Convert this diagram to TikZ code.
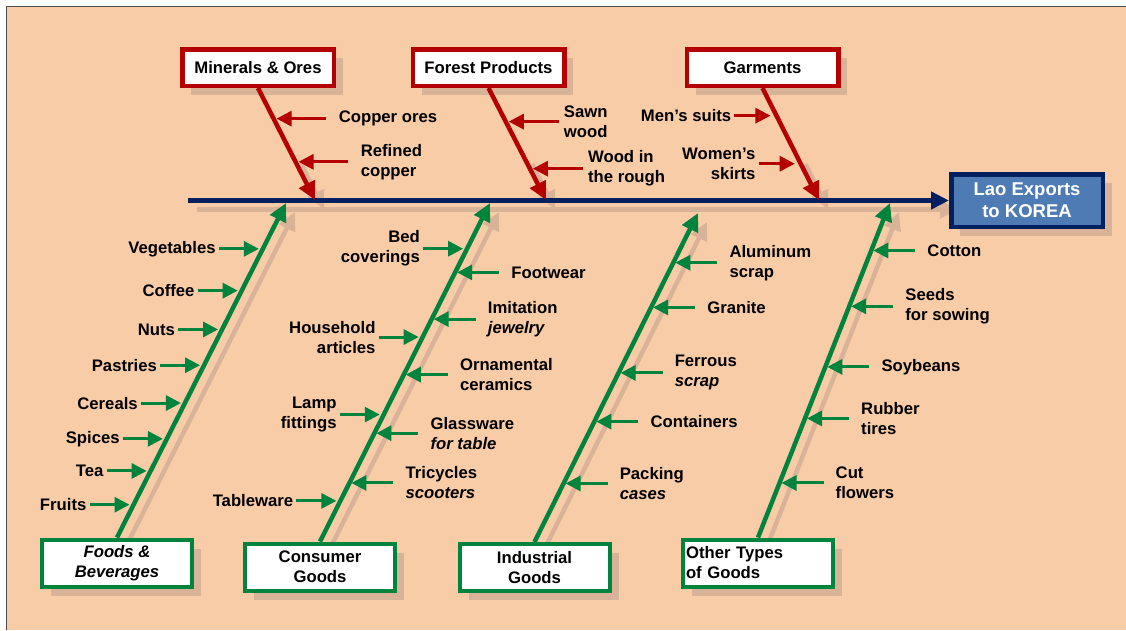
\documentclass[tikz,border=0pt]{standalone}
\usepackage{fontspec}
\setmainfont{Liberation Sans}
\usetikzlibrary{arrows.meta,positioning,shadows,backgrounds}

\definecolor{peach}{HTML}{F9CCA8}
\definecolor{shade}{HTML}{D8B397}
\definecolor{bonered}{HTML}{B40000}
\definecolor{bonegreen}{HTML}{00843D}
\definecolor{spineblue}{HTML}{002060}
\definecolor{effectblue}{HTML}{4E7BB4}

\tikzset{
  lbl/.style={font=\fontsize{16.7}{20}\selectfont\bfseries, inner sep=3pt},
  lleft/.style={lbl, align=right},
  lright/.style={lbl, align=left},
  box/.style={fill=white, line width=4.5pt, inner sep=0pt, align=center,
    font=\fontsize{16.7}{20}\selectfont\bfseries,
    drop shadow={shadow xshift=9pt, shadow yshift=-9pt, fill=shade, opacity=1}},
  redbox/.style={box, draw=bonered, minimum width=151.5pt, minimum height=36.5pt},
  greenbox/.style={box, draw=bonegreen, line width=4pt, minimum width=150pt, minimum height=47pt},
  bone/.style={line width=4.5pt, -{Triangle[length=18pt,width=17pt]}},
  gbone/.style={bone, draw=bonegreen},
  rbone/.style={bone, draw=bonered},
  twig/.style={line width=3pt, -{Triangle[length=15pt,width=15pt]}},
  gtwig/.style={twig, draw=bonegreen},
  rtwig/.style={twig, draw=bonered}
}

\begin{document}
\begin{tikzpicture}[x=1pt,y=-1pt]
  \useasboundingbox (0,0) rectangle (1126,630);
  \begin{scope}[on background layer]
    \fill[peach] (6,6) rectangle (1126,630);
    \draw[black!70, line width=1pt] (6,630) -- (6,6) -- (1126,6);
  \end{scope}

  % spine and bone tips
  \coordinate (sp) at (188,200.5);
  \coordinate (mt) at (315,200);
  \coordinate (fot) at (546,200);
  \coordinate (gt) at (819,200);
  \coordinate (ft) at (286,203);
  \coordinate (ct) at (490,203);
  \coordinate (it) at (698,213);
  \coordinate (ot) at (890,203);

  % boxes
  \node[box, draw=spineblue, fill=effectblue, minimum width=151.5pt, minimum height=52.5pt,
    text=white, font=\fontsize{18.5}{22}\selectfont\bfseries] (effect) at (1027,200.5) {Lao Exports\\to KOREA};
  \node[redbox] (mineral) at (258,67.5) {Minerals \& Ores};
  \node[redbox] (forest) at (488.5,67.5) {Forest Products};
  \node[redbox] (garment) at (762.5,67.5) {Garments};
  \node[greenbox, font=\fontsize{16.7}{20}\selectfont\bfseries\itshape] (food) at (117,563) {Foods \&\\Beverages};
  \node[greenbox] (consumer) at (320,567) {Consumer\\Goods};
  \node[greenbox] (industrial) at (534.5,567.5) {Industrial\\Goods};
  \node[greenbox, text width=144pt, inner sep=3pt, align=left] (other) at (758,563) {Other Types\\of Goods};

  % shadows
  \begin{scope}[on background layer]
    \draw[bone, draw=shade] ([shift={(9,9)}]sp) -- ([shift={(9,9)}]effect.west);
    \foreach \a/\b in {food/ft, consumer/ct, industrial/it, other/ot}
      \draw[bone, draw=shade] ([shift={(9,9)}]\a.north) -- ([shift={(9,9)}]\b);
    \foreach \a/\b in {mineral/mt, forest/fot, garment/gt} {
      \path (\a.south) -- (\b) coordinate[pos=0.6] (s\a);
      \draw[bone, draw=shade] ([shift={(9,9)}]s\a) -- ([shift={(9,9)}]\b);
    }
  \end{scope}

  % spine and bones
  \draw[bone, draw=spineblue] (sp) -- (effect.west);
  \foreach \a/\b in {food/ft, consumer/ct, industrial/it, other/ot}
    \draw[gbone] (\a.north) -- (\b);
  \foreach \a/\b in {mineral/mt, forest/fot, garment/gt}
    \draw[rbone] (\a.south) -- (\b);

  % minerals & ores
  \foreach \p/\t [count=\i] in {0.2735/Copper ores, 0.659/{Refined\\copper}} {
    \path (mineral.south) -- (mt) coordinate[pos=\p] (mp\i);
    \node[lright, right=62pt of mp\i] (ml\i) {\t};
    \draw[rtwig, shorten <=10pt, shorten >=3pt] (ml\i) -- (mp\i);
  }
  % forest products
  \foreach \p/\t [count=\i] in {0.30/{Sawn\\wood}, 0.72/{Wood in\\the rough}} {
    \path (forest.south) -- (fot) coordinate[pos=\p] (op\i);
    \node[lright, right=55pt of op\i] (ol\i) {\t};
    \draw[rtwig, shorten <=2pt, shorten >=3pt] (ol\i) -- (op\i);
  }
  % garments
  \foreach \p/\t [count=\i] in {0.247/Men’s suits, 0.676/{Women’s\\skirts}} {
    \path (garment.south) -- (gt) coordinate[pos=\p] (gp\i);
    \node[lleft, left=42pt of gp\i] (gl\i) {\t};
    \draw[rtwig, shorten >=6pt] (gl\i) -- (gp\i);
  }

  % foods & beverages
  \foreach \p/\t [count=\i] in {0.863/Vegetables, 0.738/Coffee, 0.622/Nuts, 0.515/Pastries,
      0.402/Cereals, 0.295/Spices, 0.199/Tea, 0.098/Fruits} {
    \path (food.north) -- (ft) coordinate[pos=\p] (fp\i);
    \node[lleft, left=44pt of fp\i] (fl\i) {\t};
    \draw[gtwig, shorten >=4pt] (fl\i) -- (fp\i);
  }
  % consumer goods
  \foreach \p/\t [count=\i] in {0.865/{Bed\\coverings}, 0.604/{Household\\articles},
      0.375/{Lamp\\fittings}, 0.120/Tableware} {
    \path (consumer.north) -- (ct) coordinate[pos=\p] (cp\i);
    \node[lleft, left=44pt of cp\i] (cl\i) {\t};
    \draw[gtwig, shorten >=4pt] (cl\i) -- (cp\i);
  }
  \foreach \p/\t [count=\i] in {0.795/Footwear, 0.657/{Imitation\\\textit{jewelry}},
      0.493/{Ornamental\\ceramics}, 0.320/{Glassware\\\textit{for table}},
      0.173/{Tricycles\\\textit{scooters}}} {
    \path (consumer.north) -- (ct) coordinate[pos=\p] (cq\i);
    \node[lright, right=53pt of cq\i] (cr\i) {\t};
    \draw[gtwig, shorten <=9pt, shorten >=2pt] (cr\i) -- (cq\i);
  }
  % industrial goods
  \foreach \p/\t [count=\i] in {0.849/{Aluminum\\scrap}, 0.713/Granite,
      0.514/{Ferrous\\\textit{scrap}}, 0.366/Containers, 0.178/{Packing\\\textit{cases}}} {
    \path (industrial.north) -- (it) coordinate[pos=\p] (ip\i);
    \node[lright, right=53pt of ip\i] (il\i) {\t};
    \draw[gtwig, shorten <=9pt, shorten >=2pt] (il\i) -- (ip\i);
  }
  % other types of goods
  \foreach \p/\t [count=\i] in {0.858/Cotton, 0.691/{Seeds\\for sowing}, 0.510/Soybeans,
      0.356/{Rubber\\tires}, 0.163/{Cut\\flowers}} {
    \path (other.north) -- (ot) coordinate[pos=\p] (tp\i);
    \node[lright, right=53pt of tp\i] (tl\i) {\t};
    \draw[gtwig, shorten <=9pt, shorten >=2pt] (tl\i) -- (tp\i);
  }
\end{tikzpicture}
\end{document}
